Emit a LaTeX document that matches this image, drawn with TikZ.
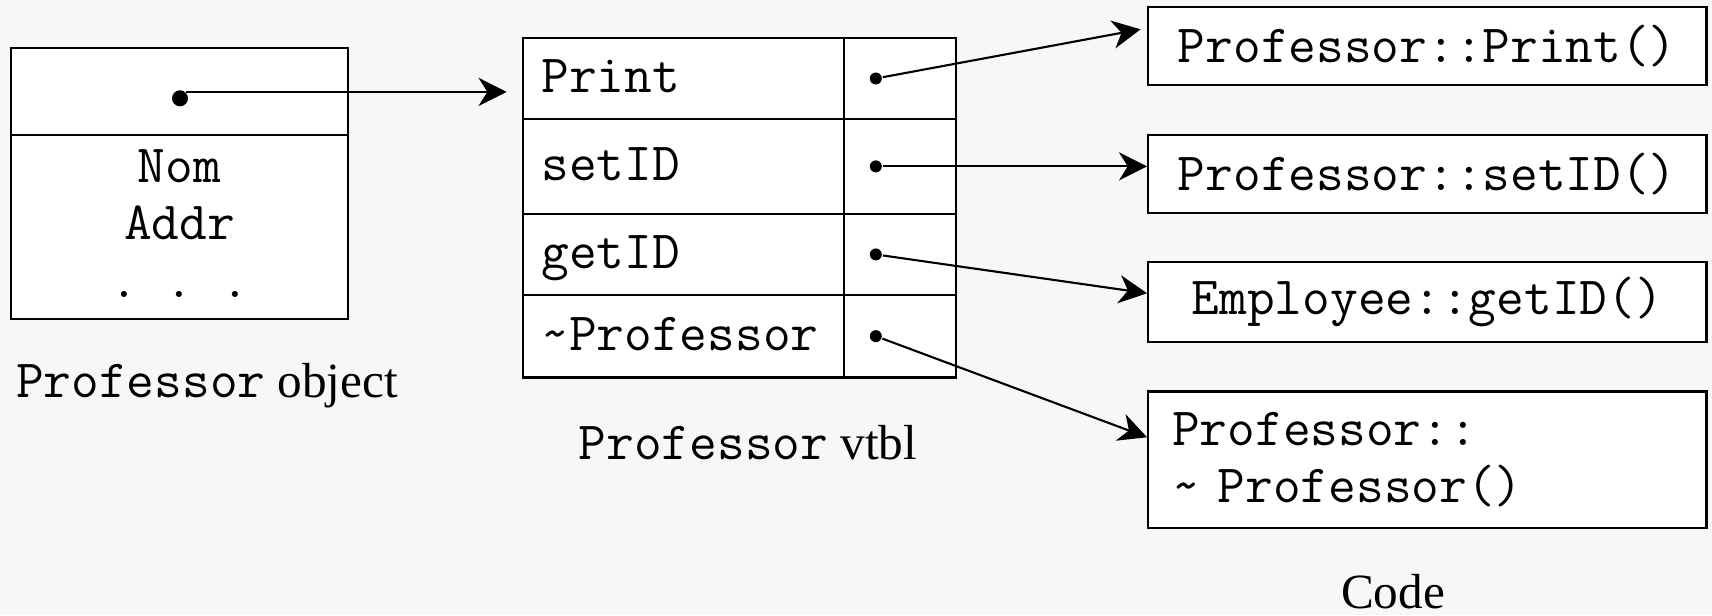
\documentclass[tikz,border=0pt]{standalone}
\usepackage{fontspec}
\setmainfont{Liberation Serif}
\usetikzlibrary{arrows.meta,positioning}
\definecolor{bgpage}{HTML}{F7F7F7}
\newcommand{\codefont}{\ttfamily\fontsize{15.3}{16.3}\selectfont}
\newcommand{\capfont}{\fontsize{14}{16}\selectfont}
\tikzset{
       arr/.style = {-{Stealth[length=8pt, width=8pt, inset=2.5pt]}},   % arrow heads
      cell/.style = {draw, fill=white, inner sep=0pt, alias=tmp, font=\codefont},
  namecell/.style = {cell, text width=2.84cm, inner xsep=0.18cm, align=left,
                     text height=0.9em, text depth=0.1em},
   codebox/.style = {cell, text width=5.1cm, inner xsep=0.24cm, minimum height=#1},
       dot/.style = {circle, fill, inner sep=0pt, minimum size=0.12cm},
       lbl/.style = {font=\capfont, inner sep=0pt},
        }

\begin{document}
\begin{tikzpicture}[x=0.01cm, y=-0.01cm, line width=0.6pt]
\path[use as bounding box, fill=bgpage] (0,0) rectangle (1712,615);

% the object
\path[nodes=cell]
  node[minimum width=3.37cm, minimum height=0.87cm] (optr) at (179.5,91.2) {}
  node[minimum width=3.37cm, minimum height=1.84cm, align=center, text depth=0.2em,
       below=-\pgflinewidth of tmp] (obody) {Nom\\Addr\\.\ .\ .};
\node[dot, minimum size=0.16cm] (odot) at (180,98.3) {};
\node[lbl, anchor=base west] (olbl) at (15,397) {{\codefont Professor} object};

% the vtbl
\path[nodes=namecell]
  node[minimum height=0.804cm] (n1) at (683.5,78.5) {Print}
  node[minimum height=0.953cm, below=-\pgflinewidth of tmp] (n2) {setID}
  node[minimum height=0.807cm, below=-\pgflinewidth of tmp] (n3) {getID}
  node[minimum height=0.826cm, below=-\pgflinewidth of tmp] (n4) {\textasciitilde Professor};
\foreach \i/\h in {1/0.804,2/0.953,3/0.807,4/0.826}{
  \node[cell, minimum width=1.124cm, minimum height=\h cm,
        right=-\pgflinewidth of n\i] (p\i) {};
  \node[dot] (d\i) at ([xshift=-0.24cm]p\i.center) {};
}
\node[lbl, anchor=base] (vlbl) at (748,459.5) {{\codefont Professor} vtbl};

% the code
\node[codebox=0.783cm, align=center] (c1) at (1427.3,45.9) {Professor::Print()};
\node[codebox=0.783cm, align=center] (c2) at (1427.3,174.2) {Professor::setID()};
\node[codebox=0.794cm, align=center] (c3) at (1427.3,302) {Employee::getID()};
\node[codebox=1.365cm, align=left] (c4) at (1427.3,459.8) {Professor::\\\textasciitilde\ Professor()};
\node[lbl, anchor=base] (clbl) at (1393,608) {Code};

% pointers
\coordinate (t0) at (506.7,92.3);
\coordinate (t1) at ([shift={(-6.5,-16.6)}]c1.west);
\draw[arr] (odot.north east) -- (odot.north east -| t0);
\draw[arr] (d1) -- (t1);
\draw[arr] (d2) -- (d2 -| c2.west);
\draw[arr] (d3) -- ([yshift=0.087cm]c3.west);
\draw[arr] (d4) -- ([yshift=0.225cm]c4.west);
\end{tikzpicture}
\end{document}
